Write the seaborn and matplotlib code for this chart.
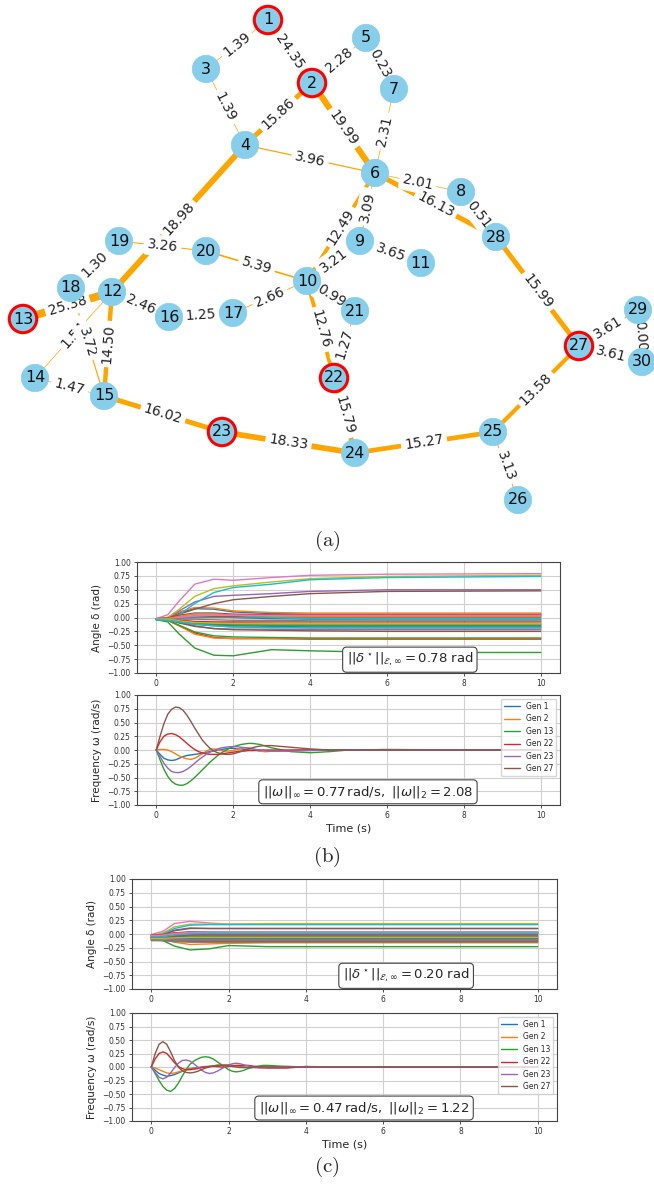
import math
import numpy as np
import pandas as pd
import matplotlib
matplotlib.use("Agg")
import matplotlib.pyplot as plt
import seaborn as sns

# ---------------- network (IEEE 30-bus) ----------------
BUS_POS = {
    1: (268, 20), 2: (312, 83), 3: (206, 69), 4: (245, 145), 5: (366, 38),
    6: (375, 173), 7: (394, 89), 8: (461, 192), 9: (360, 241), 10: (307, 281),
    11: (421, 263), 12: (112, 292), 13: (23, 319), 14: (35, 378), 15: (104, 396),
    16: (169, 317), 17: (233, 313), 18: (71, 288), 19: (119, 241), 20: (206, 251),
    21: (355, 311), 22: (334, 378), 23: (222, 432), 24: (355, 453), 25: (493, 432),
    26: (518, 500), 27: (579, 346), 28: (496, 237), 29: (638, 310), 30: (642, 362),
}
GENERATORS = [1, 2, 13, 22, 23, 27]
LINES = [
    (1, 3, 1.39), (1, 2, 24.35), (3, 4, 1.39), (2, 4, 15.86), (2, 5, 2.28),
    (5, 7, 0.23), (2, 6, 19.99), (7, 6, 2.31), (4, 6, 3.96), (6, 8, 2.01),
    (6, 28, 16.13), (8, 28, 0.51), (6, 9, 3.09), (6, 10, 12.49), (9, 10, 3.21),
    (9, 11, 3.65), (4, 12, 18.98), (19, 20, 3.26), (20, 10, 5.39), (18, 19, 1.30),
    (13, 12, 25.38), (12, 16, 2.46), (16, 17, 1.25), (17, 10, 2.66), (10, 21, 0.99),
    (10, 22, 12.76), (21, 22, 1.27), (12, 14, 1.54), (18, 15, 3.72), (12, 15, 14.50),
    (14, 15, 1.47), (15, 23, 16.02), (23, 24, 18.33), (22, 24, 15.79), (24, 25, 15.27),
    (25, 26, 3.13), (25, 27, 13.58), (28, 27, 15.99), (27, 29, 3.61), (27, 30, 3.61),
    (29, 30, 0.00),
]

# ---------------- time series ----------------
T_ANG = [0.0, 0.3, 0.6, 1.0, 1.5, 2.0, 3.0, 4.0, 6.0, 10.0]

ANGLE_B = [
    [-0.03, -0.01, 0.08, 0.16, 0.15, 0.10, 0.07, 0.06, 0.06, 0.06],
    [-0.02, 0.00, 0.10, 0.18, 0.17, 0.12, 0.09, 0.08, 0.08, 0.08],
    [-0.04, -0.08, -0.30, -0.55, -0.68, -0.69, -0.58, -0.60, -0.63, -0.63],
    [-0.03, -0.05, -0.15, -0.28, -0.36, -0.38, -0.38, -0.39, -0.39, -0.39],
    [-0.03, 0.00, 0.12, 0.28, 0.38, 0.40, 0.43, 0.47, 0.50, 0.50],
    [-0.03, -0.01, 0.06, 0.15, 0.25, 0.32, 0.38, 0.43, 0.47, 0.48],
    [-0.02, 0.05, 0.30, 0.60, 0.69, 0.67, 0.72, 0.76, 0.78, 0.79],
    [-0.03, -0.03, -0.08, -0.15, -0.20, -0.21, -0.21, -0.22, -0.22, -0.22],
    [-0.03, 0.00, 0.15, 0.38, 0.52, 0.57, 0.64, 0.70, 0.74, 0.76],
    [-0.04, -0.02, 0.05, 0.25, 0.45, 0.54, 0.60, 0.68, 0.72, 0.74],
    [-0.03, -0.02, 0.00, 0.03, 0.02, 0.00, -0.02, -0.03, -0.03, -0.03],
    [-0.03, -0.05, -0.15, -0.30, -0.37, -0.38, -0.38, -0.38, -0.38, -0.38],
    [-0.04, -0.05, -0.14, -0.26, -0.33, -0.35, -0.36, -0.37, -0.37, -0.37],
    [-0.02, -0.01, 0.04, 0.08, 0.08, 0.06, 0.05, 0.05, 0.05, 0.05],
    [-0.03, -0.03, -0.06, -0.10, -0.12, -0.12, -0.12, -0.12, -0.12, -0.12],
    [-0.03, -0.02, -0.01, 0.00, 0.01, 0.02, 0.03, 0.03, 0.03, 0.03],
    [-0.03, -0.03, -0.05, -0.08, -0.09, -0.10, -0.11, -0.12, -0.13, -0.13],
    [-0.02, -0.02, -0.01, 0.00, 0.00, 0.00, 0.00, 0.00, 0.00, 0.00],
    [-0.03, -0.04, -0.07, -0.11, -0.13, -0.14, -0.15, -0.16, -0.16, -0.16],
    [-0.04, -0.03, 0.02, 0.07, 0.07, 0.04, 0.00, -0.02, -0.03, -0.03],
    [-0.03, -0.04, -0.08, -0.12, -0.14, -0.15, -0.16, -0.17, -0.17, -0.17],
    [-0.03, -0.02, 0.02, 0.06, 0.06, 0.04, 0.03, 0.02, 0.02, 0.02],
    [-0.03, -0.03, -0.06, -0.10, -0.12, -0.13, -0.14, -0.14, -0.14, -0.14],
    [-0.03, -0.03, -0.05, -0.07, -0.08, -0.08, -0.08, -0.08, -0.08, -0.08],
    [-0.03, -0.04, -0.07, -0.12, -0.15, -0.17, -0.18, -0.19, -0.19, -0.19],
    [-0.03, -0.04, -0.10, -0.16, -0.20, -0.22, -0.23, -0.24, -0.25, -0.25],
    [-0.02, -0.02, 0.00, 0.03, 0.04, 0.04, 0.04, 0.04, 0.04, 0.04],
    [-0.03, -0.03, -0.03, -0.03, -0.04, -0.05, -0.05, -0.06, -0.06, -0.06],
    [-0.03, -0.03, -0.06, -0.09, -0.10, -0.11, -0.11, -0.11, -0.11, -0.11],
    [-0.04, -0.05, -0.08, -0.12, -0.15, -0.17, -0.18, -0.18, -0.18, -0.18],
]

ANGLE_C = [
    [-0.03, -0.02, 0.02, 0.04, 0.04, 0.03, 0.03, 0.03, 0.03, 0.03],
    [-0.05, -0.08, -0.15, -0.19, -0.18, -0.17, -0.16, -0.16, -0.16, -0.16],
    [-0.08, -0.12, -0.22, -0.29, -0.27, -0.21, -0.23, -0.23, -0.23, -0.23],
    [-0.04, -0.06, -0.10, -0.13, -0.14, -0.14, -0.14, -0.14, -0.14, -0.14],
    [-0.02, 0.00, 0.07, 0.11, 0.10, 0.10, 0.10, 0.10, 0.10, 0.10],
    [-0.03, -0.01, 0.06, 0.10, 0.10, 0.10, 0.10, 0.10, 0.10, 0.10],
    [-0.01, 0.05, 0.19, 0.23, 0.20, 0.18, 0.18, 0.18, 0.18, 0.18],
    [-0.10, -0.11, -0.12, -0.12, -0.11, -0.11, -0.11, -0.11, -0.11, -0.11],
    [-0.03, 0.02, 0.13, 0.18, 0.18, 0.18, 0.19, 0.19, 0.19, 0.19],
    [-0.04, 0.00, 0.10, 0.16, 0.17, 0.17, 0.17, 0.17, 0.17, 0.17],
    [-0.06, -0.06, -0.03, 0.00, 0.01, 0.01, 0.01, 0.01, 0.01, 0.01],
    [-0.08, -0.09, -0.08, -0.06, -0.05, -0.05, -0.05, -0.05, -0.05, -0.05],
    [-0.10, -0.10, -0.09, -0.08, -0.07, -0.07, -0.07, -0.07, -0.07, -0.07],
    [-0.02, -0.01, 0.02, 0.03, 0.03, 0.03, 0.03, 0.03, 0.03, 0.03],
    [-0.11, -0.11, -0.11, -0.12, -0.12, -0.12, -0.12, -0.12, -0.12, -0.12],
    [-0.12, -0.12, -0.13, -0.13, -0.13, -0.13, -0.13, -0.13, -0.13, -0.13],
    [-0.05, -0.05, -0.04, -0.03, -0.03, -0.03, -0.03, -0.03, -0.03, -0.03],
    [-0.07, -0.06, -0.04, -0.02, -0.02, -0.02, -0.02, -0.02, -0.02, -0.02],
    [-0.09, -0.09, -0.09, -0.09, -0.09, -0.09, -0.09, -0.09, -0.09, -0.09],
    [-0.06, -0.05, -0.01, 0.02, 0.02, 0.02, 0.02, 0.02, 0.02, 0.02],
    [-0.08, -0.08, -0.06, -0.04, -0.04, -0.04, -0.04, -0.04, -0.04, -0.04],
    [-0.04, -0.03, 0.00, 0.02, 0.02, 0.02, 0.02, 0.02, 0.02, 0.02],
    [-0.06, -0.07, -0.08, -0.08, -0.08, -0.08, -0.08, -0.08, -0.08, -0.08],
    [-0.05, -0.05, -0.03, -0.01, 0.00, 0.00, 0.00, 0.00, 0.00, 0.00],
    [-0.09, -0.09, -0.10, -0.10, -0.10, -0.10, -0.10, -0.10, -0.10, -0.10],
    [-0.07, -0.07, -0.06, -0.06, -0.06, -0.06, -0.06, -0.06, -0.06, -0.06],
    [-0.03, -0.02, 0.01, 0.03, 0.04, 0.04, 0.04, 0.04, 0.04, 0.04],
    [-0.11, -0.12, -0.14, -0.15, -0.15, -0.15, -0.15, -0.15, -0.15, -0.15],
    [-0.08, -0.08, -0.07, -0.06, -0.06, -0.06, -0.06, -0.06, -0.06, -0.06],
    [-0.05, -0.05, -0.02, 0.00, 0.01, 0.01, 0.01, 0.01, 0.01, 0.01],
]

T_FREQ = [0.0, 0.1, 0.2, 0.3, 0.4, 0.5, 0.6, 0.7, 0.8, 0.9, 1.0, 1.1, 1.2, 1.3,
          1.4, 1.5, 1.6, 1.7, 1.8, 1.9, 2.0, 2.1, 2.2, 2.3, 2.4, 2.5, 2.6, 2.7,
          2.8, 2.9, 3.0, 3.5, 4.0, 4.5, 5.0, 6.0, 8.0, 10.0]
GEN_LABELS = ["Gen 1", "Gen 2", "Gen 13", "Gen 22", "Gen 23", "Gen 27"]

FREQ_B = [
    [0.0, -0.08, -0.15, -0.18, -0.19, -0.18, -0.15, -0.12, -0.10, -0.09, -0.08, -0.07, -0.06, -0.04,
     -0.03, -0.01, 0.00, 0.01, 0.02, 0.03, 0.03, 0.02, 0.02, 0.01, 0.00, -0.01, -0.01, -0.02,
     -0.02, -0.02, -0.02, -0.01, 0.00, 0.00, 0.00, 0.00, 0.00, 0.00],
    [0.0, 0.01, 0.01, 0.00, -0.03, -0.07, -0.11, -0.14, -0.16, -0.17, -0.15, -0.11, -0.07, -0.02,
     0.01, 0.02, 0.01, -0.01, -0.02, -0.02, -0.01, 0.01, 0.03, 0.04, 0.04, 0.02, 0.00, -0.02,
     -0.03, -0.03, -0.02, -0.01, 0.00, 0.00, 0.00, 0.00, 0.00, 0.00],
    [0.0, -0.18, -0.35, -0.48, -0.57, -0.62, -0.64, -0.64, -0.61, -0.56, -0.50, -0.43, -0.36, -0.29,
     -0.22, -0.16, -0.10, -0.05, -0.01, 0.03, 0.06, 0.08, 0.10, 0.11, 0.12, 0.12, 0.11, 0.10,
     0.08, 0.06, 0.04, -0.03, -0.05, -0.03, 0.00, 0.01, 0.00, 0.00],
    [0.0, 0.15, 0.25, 0.29, 0.30, 0.28, 0.24, 0.18, 0.12, 0.06, 0.01, -0.03, -0.05, -0.07,
     -0.08, -0.08, -0.08, -0.07, -0.06, -0.05, -0.04, -0.03, -0.02, -0.02, -0.01, -0.01, 0.00, 0.00,
     0.00, 0.00, 0.00, 0.00, 0.00, 0.00, 0.00, 0.00, 0.00, 0.00],
    [0.0, -0.12, -0.24, -0.33, -0.39, -0.41, -0.41, -0.39, -0.35, -0.30, -0.24, -0.18, -0.13, -0.08,
     -0.04, -0.01, 0.02, 0.04, 0.05, 0.06, 0.06, 0.06, 0.05, 0.04, 0.03, 0.02, 0.01, 0.00,
     -0.01, -0.02, -0.02, -0.02, -0.01, 0.00, 0.00, 0.00, 0.00, 0.00],
    [0.0, 0.25, 0.48, 0.65, 0.74, 0.78, 0.77, 0.72, 0.63, 0.52, 0.40, 0.29, 0.18, 0.10,
     0.03, -0.02, -0.05, -0.07, -0.08, -0.08, -0.07, -0.05, -0.03, 0.00, 0.02, 0.04, 0.06, 0.07,
     0.08, 0.08, 0.08, 0.05, 0.02, 0.00, 0.00, 0.00, 0.00, 0.00],
]

FREQ_C = [
    [0.0, -0.06, -0.12, -0.15, -0.17, -0.16, -0.14, -0.11, -0.08, -0.05, -0.03, -0.02, -0.01, 0.00,
     0.01, 0.01, 0.02, 0.03, 0.03, 0.04, 0.04, 0.03, 0.02, 0.01, 0.00, -0.01, -0.01, -0.01,
     0.00, 0.00, 0.00, 0.00, 0.00, 0.00, 0.00, 0.00, 0.00, 0.00],
    [0.0, -0.02, -0.05, -0.08, -0.11, -0.12, -0.11, -0.09, -0.07, -0.05, -0.04, -0.03, -0.02, -0.01,
     0.00, 0.01, 0.02, 0.03, 0.04, 0.04, 0.03, 0.02, 0.01, 0.00, -0.01, -0.01, -0.01, 0.00,
     0.00, 0.00, 0.00, 0.00, 0.00, 0.00, 0.00, 0.00, 0.00, 0.00],
    [0.0, -0.12, -0.25, -0.36, -0.43, -0.45, -0.40, -0.30, -0.17, -0.05, 0.05, 0.11, 0.15, 0.18,
     0.19, 0.18, 0.15, 0.10, 0.05, 0.00, -0.05, -0.08, -0.09, -0.08, -0.06, -0.03, -0.01, 0.01,
     0.02, 0.03, 0.03, 0.01, 0.00, 0.00, 0.00, 0.00, 0.00, 0.00],
    [0.0, 0.15, 0.25, 0.28, 0.25, 0.17, 0.08, 0.01, -0.03, -0.05, -0.05, -0.04, -0.03, -0.01,
     0.00, 0.01, 0.01, 0.01, 0.00, 0.00, 0.01, 0.02, 0.03, 0.03, 0.03, 0.03, 0.02, 0.01,
     0.00, -0.01, -0.02, -0.02, 0.01, 0.00, 0.00, 0.00, 0.00, 0.00],
    [0.0, -0.10, -0.19, -0.22, -0.19, -0.11, -0.01, 0.07, 0.12, 0.13, 0.11, 0.06, 0.00, -0.06,
     -0.10, -0.12, -0.11, -0.08, -0.04, 0.00, 0.04, 0.06, 0.07, 0.06, 0.04, 0.02, 0.00, -0.01,
     -0.02, -0.02, -0.01, 0.01, 0.00, 0.00, 0.00, 0.00, 0.00, 0.00],
    [0.0, 0.25, 0.42, 0.47, 0.42, 0.28, 0.12, 0.00, -0.07, -0.10, -0.11, -0.10, -0.08, -0.05,
     -0.02, 0.00, 0.02, 0.03, 0.03, 0.03, 0.02, 0.01, 0.00, -0.01, -0.01, -0.01, 0.00, 0.00,
     0.00, 0.00, 0.00, 0.00, 0.00, 0.00, 0.00, 0.00, 0.00, 0.00],
]

ANGLE_NORMS = [r"$||\delta^\star||_{\mathcal{E},\infty} = 0.78$ rad",
               r"$||\delta^\star||_{\mathcal{E},\infty} = 0.20$ rad"]
FREQ_NORMS = [r"$||\omega||_\infty = 0.77\,\mathrm{rad/s},\ ||\omega||_2 = 2.08$",
              r"$||\omega||_\infty = 0.47\,\mathrm{rad/s},\ ||\omega||_2 = 1.22$"]

W, H = 654, 1192


def draw_network(ax):
    ax.set_xlim(0, W)
    ax.set_ylim(520, 0)
    ax.axis("off")
    for a, b, flow in LINES:
        (x1, y1), (x2, y2) = BUS_POS[a], BUS_POS[b]
        ax.plot([x1, x2], [y1, y2], color="orange", lw=max(0.5, flow / 4.5),
                solid_capstyle="butt", zorder=1)
        ang = math.degrees(math.atan2(-(y2 - y1), x2 - x1))
        if ang > 90:
            ang -= 180
        elif ang < -90:
            ang += 180
        ax.text((x1 + x2) / 2, (y1 + y2) / 2, f"{flow:.2f}", fontsize=10,
                rotation=ang, rotation_mode="anchor", ha="center", va="center",
                color="#222222", zorder=2,
                bbox=dict(boxstyle="round,pad=0.2", fc="white", ec="white"))
    buses = list(BUS_POS)
    xs = [BUS_POS[n][0] for n in buses]
    ys = [BUS_POS[n][1] for n in buses]
    edge = ["red" if n in GENERATORS else "skyblue" for n in buses]
    lw = [2.2 if n in GENERATORS else 0.5 for n in buses]
    ax.scatter(xs, ys, s=390, c="skyblue", edgecolors=edge, linewidths=lw, zorder=3)
    for n in buses:
        ax.text(BUS_POS[n][0], BUS_POS[n][1], str(n), fontsize=11.5, ha="center",
                va="center", color="#111111", zorder=4)


def style_axes(ax):
    ax.set_xlim(-0.5, 10.5)
    ax.set_ylim(-1.0, 1.0)
    ax.set_yticks(np.arange(-1.0, 1.01, 0.25))
    ax.set_xticks([0, 2, 4, 6, 8, 10])
    ax.tick_params(labelsize=5.5, length=2.5, width=0.6, colors="#333333", pad=2)
    for s in ax.spines.values():
        s.set_color("#444444")
        s.set_linewidth(0.8)
    ax.grid(True, color="#d0d0d0", lw=0.8)
    ax.set_xlabel("")


def draw_angles(ax, series, note):
    rows = [(t, v, i) for i, vals in enumerate(series) for t, v in zip(T_ANG, vals)]
    df = pd.DataFrame(rows, columns=["t", "delta", "bus"])
    pal = sns.color_palette("tab10", 10) * 3
    sns.lineplot(data=df, x="t", y="delta", hue="bus", palette=pal[:len(series)],
                 estimator=None, lw=1.0, legend=False, ax=ax)
    style_axes(ax)
    ax.set_ylabel("Angle δ (rad)", fontsize=7.5)
    ax.text(0.645, 0.12, note, transform=ax.transAxes, fontsize=9.5, ha="center",
            va="center", bbox=dict(boxstyle="round,pad=0.3", fc="white", ec="#444444", lw=0.8))


def draw_freq(ax, series, note):
    rows = [(t, v, GEN_LABELS[i]) for i, vals in enumerate(series) for t, v in zip(T_FREQ, vals)]
    df = pd.DataFrame(rows, columns=["t", "omega", "gen"])
    sns.lineplot(data=df, x="t", y="omega", hue="gen", hue_order=GEN_LABELS,
                 palette=sns.color_palette("tab10", 6), estimator=None, lw=1.0, ax=ax)
    style_axes(ax)
    ax.set_ylabel("Frequency ω (rad/s)", fontsize=7.5)
    ax.set_xlabel("Time (s)", fontsize=8, labelpad=2)
    sns.move_legend(ax, "upper right", title=None, fontsize=5.5, frameon=True,
                    handlelength=2.0, labelspacing=0.45, borderpad=0.4)
    ax.text(0.546, 0.12, note, transform=ax.transAxes, fontsize=9.5, ha="center",
            va="center", bbox=dict(boxstyle="round,pad=0.3", fc="white", ec="#444444", lw=0.8))


sns.set_theme(style="whitegrid", rc={"xtick.bottom": True, "ytick.left": True})
plt.rcParams["font.family"] = ["DejaVu Sans"]

fig = plt.figure(figsize=(W / 100, H / 100), dpi=100)

ax_net = fig.add_axes([0, 1 - 520 / H, 1, 520 / H])
draw_network(ax_net)


def px_axes(left, top, right, bottom):
    return fig.add_axes([left / W, 1 - bottom / H, (right - left) / W, (bottom - top) / H])


ax_b1 = px_axes(137, 562, 560, 673)
ax_b2 = px_axes(137, 695, 560, 805)
ax_c1 = px_axes(132, 879, 557, 989)
ax_c2 = px_axes(132, 1013, 557, 1121)

draw_angles(ax_b1, ANGLE_B, ANGLE_NORMS[0])
draw_freq(ax_b2, FREQ_B, FREQ_NORMS[0])
draw_angles(ax_c1, ANGLE_C, ANGLE_NORMS[1])
draw_freq(ax_c2, FREQ_C, FREQ_NORMS[1])

for label, y in [("(a)", 541), ("(b)", 857), ("(c)", 1167)]:
    fig.text(0.5, 1 - y / H, r"$\mathrm{" + label + "}$", math_fontfamily="cm",
             fontsize=15, ha="center", va="center")

fig.savefig("out.png", dpi=100)
